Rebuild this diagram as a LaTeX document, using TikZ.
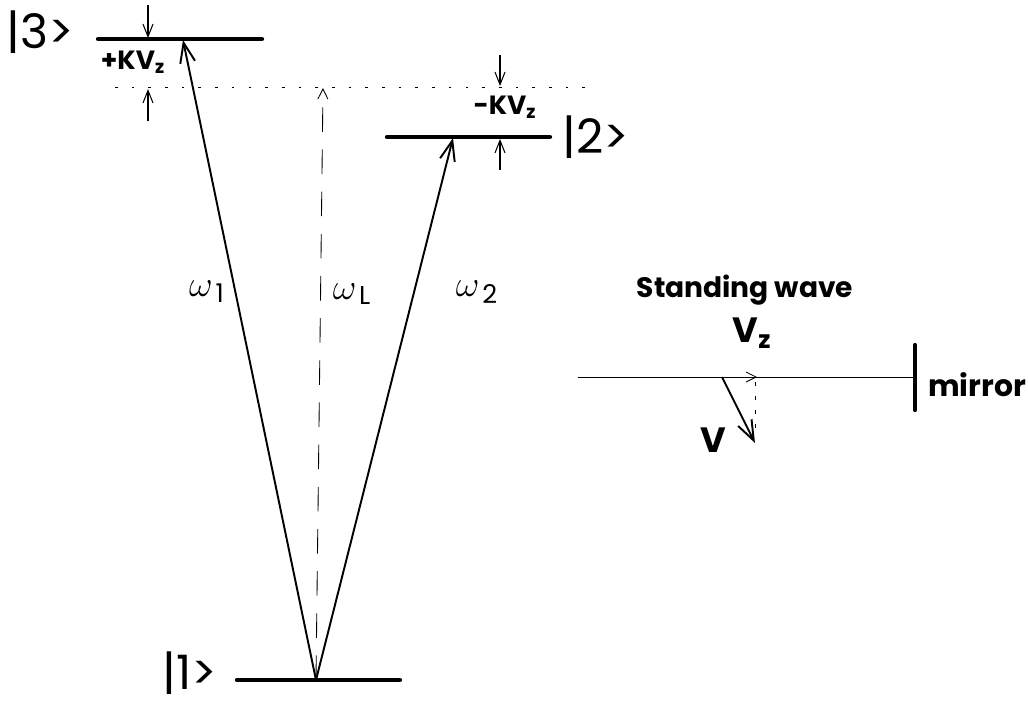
\documentclass[tikz,border=0pt]{standalone}
\usepackage{fontspec}
\setmainfont{Poppins}
\usetikzlibrary{arrows.meta}

\begin{document}
\begin{tikzpicture}[x=0.02cm, y=-0.02cm,
  level/.style={line width=2.4pt, line cap=round},
  trans/.style={-{Straight Barb[length=4mm, width=3mm]}, line width=1.1pt},
  shiftarrow/.style={-{Straight Barb[length=2.5mm, width=2mm]}, line width=0.6pt},
  ket/.style={inner sep=0pt, font=\fontsize{27}{29}\selectfont},
  lbl/.style={font=\bfseries\fontsize{15}{17}\selectfont},
  freq/.style={font=\fontsize{21}{23}\selectfont}
]
\useasboundingbox (0,0) rectangle (1028,708);

% energy levels
\coordinate (l3w) at (98,39);  \coordinate (l3e) at (262,39);
\coordinate (l2w) at (387,137); \coordinate (l2e) at (550,137);
\coordinate (l1w) at (237,680); \coordinate (l1e) at (400,680);
\draw[level] (l3w) -- (l3e);
\draw[level] (l2w) -- (l2e);
\draw[level] (l1w) -- (l1e);
\node[ket] (k3) at (40,32) {|3>};
\node[ket] (k2) at (596,137) {|2>};
\node[ket] (k1) at (190,673) {|1>};

% unshifted reference
\coordinate (rw) at (115,87); \coordinate (re) at (585,87);
\draw[line width=0.5pt, dash pattern=on 1.5pt off 8pt] (rw) -- (re);

% transitions
\coordinate (g) at (316,680);
\coordinate (t3) at (183,40);
\coordinate (t2) at (453,138);
\coordinate (tl) at (323,88);
\draw[trans] (g) -- (t3);
\draw[trans] (g) -- (t2);
\draw[-{Straight Barb[length=2mm, width=2mm]}, line width=0.5pt,
  dash pattern=on 14pt off 10pt] (g) -- (tl);
\node[freq] (w1) at (207,292) {$\omega_{\,\mathrm{1}}$};
\node[freq] (wl) at (352,294) {$\omega_{\,\mathrm{L}}$};
\node[freq] (w2) at (477,292) {$\omega_{\,\mathrm{2}}$};

% Doppler shifts
\coordinate (a3t) at (148,5);   \coordinate (a3b) at (148,121);
\draw[shiftarrow] (a3t) -- (148,38);
\draw[shiftarrow] (a3b) -- (148,89);
\node[lbl] (kp) at (133,62) {+KV\textsubscript{z}};
\coordinate (a2t) at (500,55);  \coordinate (a2b) at (500,170);
\draw[shiftarrow] (a2t) -- (500,86);
\draw[shiftarrow] (a2b) -- (500,139);
\node[lbl] (km) at (505,107) {-KV\textsubscript{z}};

% standing wave
\node[lbl, font=\bfseries\fontsize{16}{18}\selectfont] (sw) at (745,290) {Standing wave};
\coordinate (bw) at (578,377);
\coordinate (mr) at (915,377);
\coordinate (vz) at (757,377);
\coordinate (vo) at (722,377);
\coordinate (vt) at (755,443);
\draw[line width=0.5pt] (bw) -- (mr);
\draw[-{Straight Barb[length=2mm, width=2mm]}, line width=0.5pt] (vo) -- (vz);
\draw[line width=2.4pt, line cap=round] (915,345) -- (915,410);
\draw[trans] (vo) -- (vt);
\draw[line width=0.5pt, dash pattern=on 2pt off 6pt] (755,382) -- (755,438);
\node[lbl, font=\bfseries\fontsize{20}{22}\selectfont] (vzl) at (752,333) {V\textsubscript{z}};
\node[lbl, font=\bfseries\fontsize{20}{22}\selectfont] (vl) at (713,440) {V};
\node[lbl, font=\bfseries\fontsize{17}{19}\selectfont] (ml) at (977,385) {mirror};
\end{tikzpicture}
\end{document}
